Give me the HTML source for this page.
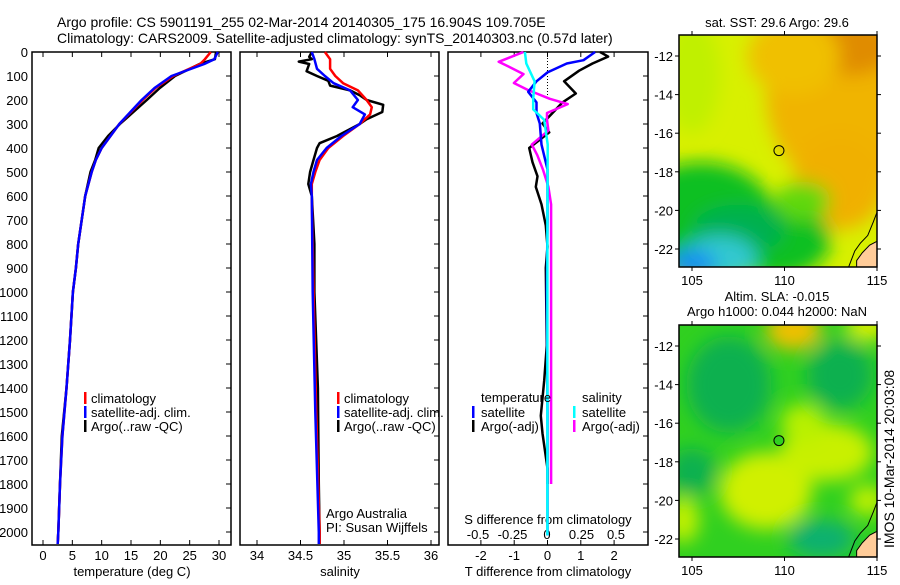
<!DOCTYPE html>
<html><head><meta charset="utf-8">
<style>
html,body{margin:0;padding:0;background:#fff;}
body{width:900px;height:580px;overflow:hidden;font-family:"Liberation Sans",sans-serif;}
svg text{font-family:"Liberation Sans",sans-serif;font-size:14px;fill:#000;}
svg text.sm{font-size:13px;}
</style></head>
<body>
<svg id="fig" width="900" height="580" viewBox="0 0 900 580" xmlns="http://www.w3.org/2000/svg">
<defs>
<filter id="blur1" x="-50%" y="-50%" width="200%" height="200%"><feGaussianBlur stdDeviation="9"/></filter>
<clipPath id="clipTop"><rect x="679" y="35" width="198" height="232"/></clipPath>
<clipPath id="clipBot"><rect x="679" y="325" width="198" height="232"/></clipPath>
</defs>
<text x="57" y="27">Argo profile: CS 5901191_255 02-Mar-2014 20140305_175 16.904S 109.705E</text>
<text x="57" y="43">Climatology: CARS2009. Satellite-adjusted climatology: synTS_20140303.nc (0.57d later)</text>
<g id="plots"></g>
<g id="maps"></g>
<text transform="translate(894,548) rotate(-90)">IMOS 10-Mar-2014 20:03:08</text>
</svg>
<script>
// ---- profile data ----
const tDepth = [0,30,50,100,150,200,250,300,350,400,450,500,600,700,800,900,1000,1200,1400,1600,1800,2000,2050];
const tArgo  = [29.5,29.3,26.7,22.5,19.9,17.7,15.4,13.1,11.1,9.5,8.9,8.1,7.2,6.6,6.0,5.6,5.1,4.6,4.0,3.2,2.9,2.6,2.5];
const tSat   = [29.8,29.2,27.5,21.9,19.0,16.8,14.9,13.0,11.5,10.0,9.0,8.3,7.2,6.6,6.0,5.6,5.1,4.6,4.0,3.3,2.9,2.6,2.5];
const tClim  = [28.6,27.6,26.8,22.2,19.2,17.0,15.0,13.0,11.5,10.0,9.0,8.3,7.2,6.6,6.0,5.6,5.1,4.6,4.0,3.3,2.9,2.6,2.5];
const sDepthArgo = [0,20,30,40,50,80,100,120,140,160,180,200,220,250,280,300,350,380,400,450,500,550,600,800,1000,1400,1800,2000,2050];
const sArgo = [34.63,34.60,34.63,34.48,34.60,34.57,34.69,34.82,34.84,35.07,35.18,35.26,35.45,35.44,35.26,35.18,34.92,34.72,34.69,34.65,34.61,34.59,34.63,34.66,34.66,34.70,34.71,34.72,34.72];
const sDepth = [0,30,70,100,130,160,200,230,260,300,350,400,450,500,550,600,1000,1500,2000,2050];
const sClim = [34.78,34.84,34.84,34.90,34.99,35.16,35.26,35.32,35.30,35.18,34.99,34.82,34.72,34.67,34.63,34.63,34.65,34.68,34.72,34.72];
const sSat  = [34.63,34.66,34.69,34.78,34.88,35.07,35.16,35.10,35.24,35.18,34.97,34.80,34.69,34.65,34.62,34.63,34.64,34.67,34.71,34.71];
// differences
const dtSatDepth = [0,34,48,85,122,166,210,254,298,386,489,700,1000,1500,2014];
const dtSat = [1.43,1.08,0.58,0.0,-0.33,-0.58,-0.33,-0.33,-0.23,-0.18,0.0,0.0,-0.02,0.0,0.0];
const dtArgoDepth = [0,19,48,78,122,173,210,254,298,335,400,459,518,562,635,723,811,899,1222,1369,1516,1589,1736,1800];
const dtArgo = [1.58,1.82,1.35,0.95,0.5,0.85,0.45,0.15,-0.15,0.05,-0.55,-0.45,-0.3,-0.35,-0.18,-0.05,0.0,-0.05,-0.02,-0.1,-0.2,-0.15,0.0,0.0];
const dsSatDepth = [0,48,122,195,239,283,386,700,1000,1500,2014];
const dsSat = [-0.16,-0.15,-0.09,-0.1,-0.1,-0.02,0.005,0.003,0.003,0.003,0.003];
const dsArgoDepth = [0,41,63,92,129,158,195,217,254,283,327,386,430,489,562,635,900,1200,1500,1800];
const dsArgo = [-0.17,-0.35,-0.27,-0.17,-0.24,-0.14,0.02,0.15,0.0,0.0,0.01,-0.11,-0.07,-0.03,0.01,0.03,0.03,0.03,0.03,0.03];
// ticks
const depthTicks = [0,100,200,300,400,500,600,700,800,900,1000,1100,1200,1300,1400,1500,1600,1700,1800,1900,2000];
const tTicks = [0,5,10,15,20,25,30];
const salTicks = [34,34.5,35,35.5,36];
const tdTicks = [-2,-1,0,1,2];
const sdTicks = [-0.5,-0.25,0,0.25,0.5];
const lonTicks = [105,110,115];
const latTicks = [-12,-14,-16,-18,-20,-22];

const NS = "http://www.w3.org/2000/svg";
const plots = document.getElementById('plots');
function mk(tag, attrs, parent){const e=document.createElementNS(NS,tag);for(const k in attrs)e.setAttribute(k,attrs[k]);(parent||plots).appendChild(e);return e;}
const yD = d => 52 + d*0.24;
const pTop=52, pBot=545;

function panel(x0,x1,name){
  const r = mk('rect',{x:x0,y:pTop,width:x1-x0,height:pBot-pTop,fill:'none',stroke:'#000','stroke-width':1.5});
  
  
  depthTicks.forEach(d=>{ mk('line',{x1:x1-5,x2:x1,y1:yD(d),y2:yD(d),stroke:'#000'}); });
}
function xticks(x, ticks, labels, ly){
  ticks.forEach((v,i)=>{
    mk('line',{x1:x(v),x2:x(v),y1:pTop,y2:pTop+5,stroke:'#000'});
    mk('line',{x1:x(v),x2:x(v),y1:pBot-5,y2:pBot,stroke:'#000'});
    if(labels){const t=mk('text',{x:x(v),y:ly,'text-anchor':'middle','class':'sm'});t.textContent=labels[i];
      
      }
  });
}
function line(x, vals, depths, color, name, w, dash){
  const pts = vals.map((v,i)=>x(v).toFixed(1)+','+yD(depths[i]).toFixed(1)).join(' ');
  const p = mk('polyline',{points:pts,fill:'none',stroke:color,'stroke-width':w||2.5,'stroke-linejoin':'round'});
  if(dash) p.setAttribute('stroke-dasharray',dash);
  
  
}
function txt(x,y,s,name,anchor,cls){const t=mk('text',{x:x,y:y,'text-anchor':anchor||'start'});t.textContent=s;
  if(cls) t.setAttribute('class',cls);
  
  return t;}
function legendMark(x,y,color){mk('rect',{x:x,y:y-6,width:2.5,height:12,fill:color});}

// Panel 1: temperature
const xT = v => 43 + v*5.867;
panel(32,231,'temperature-panel');
depthTicks.forEach(d=>{txt(28,yD(d)+5,String(d),'depth-tick-label','end','sm');});
xticks(xT,tTicks,tTicks.map(String),560);
txt(132,576,'temperature (deg C)','x-axis-title-temperature','middle','sm');
line(xT,tArgo,tDepth,'#000','argo-temperature-line');
line(xT,tClim,tDepth,'#f00','climatology-temperature-line');
line(xT,tSat,tDepth,'#00f','satellite-temperature-line');
legendMark(84,398,'#f00');txt(91,403,'climatology','legend-climatology','start','sm');
legendMark(84,412,'#00f');txt(91,417,'satellite-adj. clim.','legend-satellite','start','sm');
legendMark(84,426,'#000');txt(91,431,'Argo(..raw -QC)','legend-argo','start','sm');

// Panel 2: salinity
const xS = v => 257 + (v-34)*87;
panel(240,439,'salinity-panel');
xticks(xS,salTicks,['34','34.5','35','35.5','36'],560);
txt(340,576,'salinity','x-axis-title-salinity','middle','sm');
line(xS,sArgo,sDepthArgo,'#000','argo-salinity-line');
line(xS,sClim,sDepth,'#f00','climatology-salinity-line');
line(xS,sSat,sDepth,'#00f','satellite-salinity-line');
legendMark(337,398,'#f00');txt(344,403,'climatology','legend-climatology-2','start','sm');
legendMark(337,412,'#00f');txt(344,417,'satellite-adj. clim.','legend-satellite-2','start','sm');
legendMark(337,426,'#000');txt(344,431,'Argo(..raw -QC)','legend-argo-2','start','sm');
txt(326,518,'Argo Australia','argo-australia-label','start','sm');
txt(326,532,'PI: Susan Wijffels','pi-label','start','sm');

// Panel 3: differences
const xTd = v => 547.5 + v*33.3;
const xSd = v => 547 + v*138;
panel(448,648,'difference-panel');
xticks(xTd,tdTicks,['-2','-1','0','1','2'],560);
sdTicks.forEach(v=>{txt(xSd(v),539,String(v),'s-diff-tick-label','middle','sm');});
txt(548,524,'S difference from climatology','s-diff-axis-title','middle','sm');
txt(548,576,'T difference from climatology','t-diff-axis-title','middle','sm');
mk('line',{x1:547.5,x2:547.5,y1:pTop,y2:yD(200),stroke:'#000','stroke-dasharray':'1,2'});
line(xTd,dtArgo,dtArgoDepth,'#000','argo-temperature-diff-line');
line(xSd,dsArgo,dsArgoDepth,'#f0f','argo-salinity-diff-line');
line(xTd,dtSat,dtSatDepth,'#00f','satellite-temperature-diff-line');
line(xSd,dsSat,dsSatDepth,'#0ff','satellite-salinity-diff-line');
txt(481,402,'temperature','legend-temperature-header','start','sm');
legendMark(472,412,'#00f');txt(481,417,'satellite','legend-t-satellite','start','sm');
legendMark(472,426,'#000');txt(481,431,'Argo(-adj)','legend-t-argo','start','sm');
txt(582,402,'salinity','legend-salinity-header','start','sm');
legendMark(573,412,'#0ff');txt(582,417,'satellite','legend-s-satellite','start','sm');
legendMark(573,426,'#f0f');txt(582,431,'Argo(-adj)','legend-s-argo','start','sm');

// ---- Maps ----
const maps = document.getElementById('maps');
function mapX(lon){return 692 + (lon-105)*18.5;}
function mapY(lat,oy){return oy + (-12-lat)*19.3;}
function drawMap(oy, clip, base, blobs, name, circleFill){
  const g = mk('g',{'clip-path':'url(#'+clip+')'},maps);
  
  
  mk('rect',{x:679,y:oy-21,width:198,height:232,fill:base},g);
  const gb = mk('g',{filter:'url(#blur1)'},g);
  blobs.forEach(b=>mk('ellipse',{cx:mapX(b[0]),cy:mapY(b[1],oy),rx:b[2]*18.5,ry:b[3]*19.3,fill:b[4]},gb));
  const land = [[115,-21.6],[114.6,-21.8],[114.2,-22.2],[113.9,-22.6],[113.9,-23.2],[115.2,-23.2]];
  mk('polygon',{points:land.map(p=>mapX(p[0])+','+mapY(p[1],oy)).join(' '),fill:'#ffcc99',stroke:'#000','stroke-width':1},g);
  const coast=[[115,-20.1],[114.8,-20.6],[114.5,-21.3],[114.1,-21.7],[113.8,-22.1],[113.6,-22.6],[113.4,-23.1]];
  mk('polyline',{points:coast.map(p=>mapX(p[0])+','+mapY(p[1],oy)).join(' '),fill:'none',stroke:'#000','stroke-width':1},g);
  mk('rect',{x:679,y:oy-21,width:198,height:232,fill:'none',stroke:'#000','stroke-width':1.5},maps);
  lonTicks.forEach(v=>{mk('line',{x1:mapX(v),x2:mapX(v),y1:oy-21,y2:oy-25,stroke:'#000'},maps);
    mk('line',{x1:mapX(v),x2:mapX(v),y1:oy+211,y2:oy+215,stroke:'#000'},maps);
    const t=mk('text',{x:mapX(v),y:oy+229,'text-anchor':'middle','class':'sm'},maps);t.textContent=String(v);
    
    });
  latTicks.forEach(v=>{mk('line',{x1:675,x2:679,y1:mapY(v,oy),y2:mapY(v,oy),stroke:'#000'},maps);
    mk('line',{x1:877,x2:881,y1:mapY(v,oy),y2:mapY(v,oy),stroke:'#000'},maps);
    const t=mk('text',{x:673,y:mapY(v,oy)+5,'text-anchor':'end','class':'sm'},maps);t.textContent=String(v);
    
    });
  const c = mk('circle',{cx:mapX(109.7),cy:mapY(-16.9,oy),r:5,fill:circleFill,stroke:'#000','stroke-width':1},maps);
  
  
}
drawMap(56,'clipTop','#d8f000',[
  [113.5,-14,4.5,5,'#f0b400'],[113.5,-11.5,2.5,1.5,'#e08c00'],[110.5,-12,2.5,2,'#f0c000'],[113,-18.5,2.5,2.5,'#f0b000'],
  [105,-13,1.5,3,'#c0f000'],[105.5,-20.5,4,3,'#10c020'],[109.5,-21.5,3,2,'#10c020'],[107.5,-21,2.5,1.3,'#00b050'],
  [106.5,-22.5,2,1.2,'#30c8d0'],[105,-22.8,1.3,0.8,'#1890f0'],[111,-19.5,1.5,1,'#60d810']
],'sst-map','none');
drawMap(346,'clipBot','#30d020',[
  [107,-14,2.3,2.5,'#10b050'],[113,-13.5,1.8,1.8,'#10b050'],[105,-18.5,1.3,1.2,'#10b050'],[112,-22,1.8,1,'#10b070'],
  [110.5,-11.2,1.5,1,'#f0c000'],[114.5,-11,1.2,0.7,'#e0f000'],[108.6,-19.3,1.5,1.5,'#f0b000'],[109,-19.5,2.5,2,'#d0f000'],
  [112.3,-17.5,2.5,1.5,'#c8f000'],[111,-16,1.2,1,'#b8f000'],[104.5,-21,0.9,1.2,'#c0f000'],[114.5,-20,1,0.8,'#c0f000']
],'sla-map','#30d020');
const mt = [['sat. SST: 29.6 Argo: 29.6',777,27,'sst-map-title'],['Altim. SLA: -0.015',777,301,'sla-map-title'],['Argo h1000: 0.044 h2000: NaN',777,316,'sla-map-subtitle']];
mt.forEach(m=>{const t=mk('text',{x:m[1],y:m[2],'text-anchor':'middle','class':'sm'},maps);t.textContent=m[0];
  
  });
</script>
</body></html>
